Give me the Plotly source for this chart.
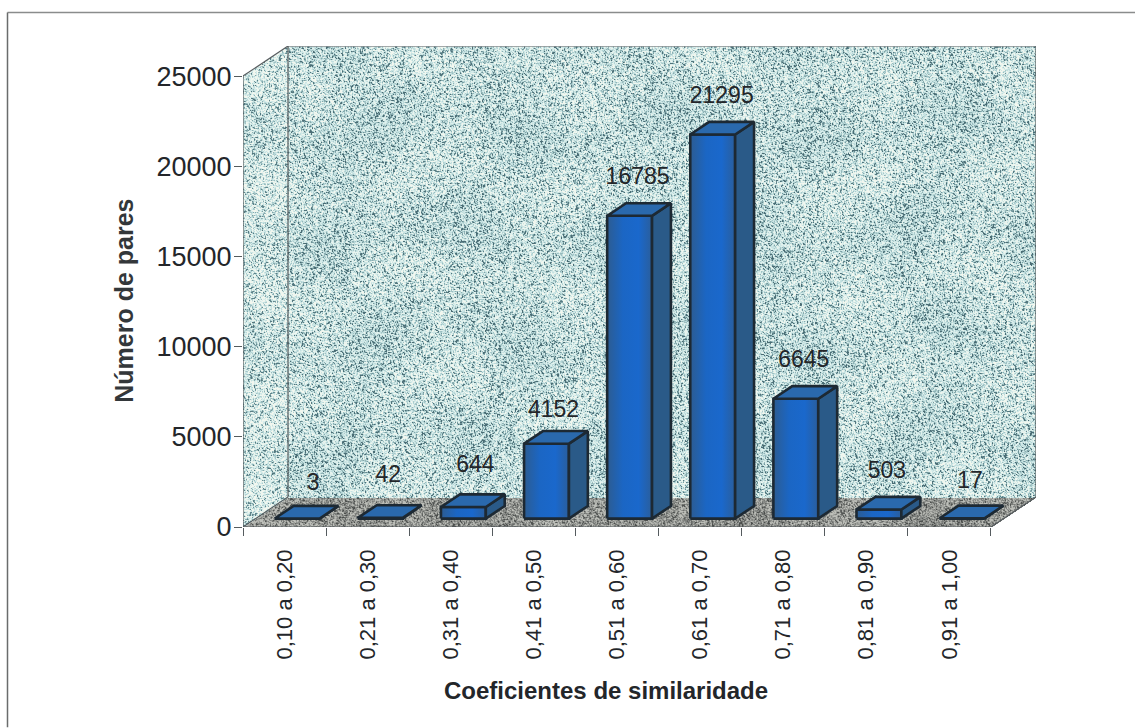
import numpy as np
import plotly.graph_objects as go

# Pair counts per similarity-coefficient class
categories = ["0,10 a 0,20", "0,21 a 0,30", "0,31 a 0,40", "0,41 a 0,50", "0,51 a 0,60",
              "0,61 a 0,70", "0,71 a 0,80", "0,81 a 0,90", "0,91 a 1,00"]
pair_counts = [3, 42, 644, 4152, 16785, 21295, 6645, 503, 17]
y_ticks = [0, 5000, 10000, 15000, 20000, 25000]

# Page geometry in pixels
WIDTH, HEIGHT = 1135, 728
LEFT, RIGHT_X, TOP, BOTTOM_Y = 243, 1036, 46, 527.5

# Oblique depth of the box, expressed in axis units
DEPTH_X = 45 / 83.1
DEPTH_Y = 30 / 450 * 25000
Y_MAX = 25000
BAR_WIDTH = 0.54
BAR_START = 0.28   # fraction of the depth where a bar's front face sits
BAR_DEPTH = 0.42   # fraction of the depth a bar occupies

n = len(categories)
X_RANGE = [0, n + DEPTH_X]
Y_RANGE = [0, Y_MAX + DEPTH_Y]
PX_X = (RIGHT_X - LEFT) / X_RANGE[1]
PX_Y = (BOTTOM_Y - TOP) / Y_RANGE[1]

INK = "#23262a"
OUTLINE = "#1d2933"
FONT = "Liberation Sans, Arial, sans-serif"
fig = go.Figure()


# Stone-like surface shared by the walls and floor of the box. The grain comes from a
# fixed hash of the cell index, so every run draws the same surface.
cols, rows = int(RIGHT_X - LEFT), int(BOTTOM_Y - TOP)
col_idx, row_idx = np.meshgrid(np.arange(cols), np.arange(rows))
grid_x = (col_idx + 0.5) / PX_X
grid_y = (row_idx + 0.5) / PX_Y


def hash_noise(a, b):
    value = np.sin(a * 12.9898 + b * 78.233) * 43758.5453
    return value - np.floor(value)


fine = hash_noise(col_idx, row_idx)
fine_right = hash_noise(col_idx + 1, row_idx)
fine_down = hash_noise(col_idx, row_idx + 1)
grain = 0.6 * fine + 0.2 * fine_right + 0.2 * fine_down
grain = np.clip((grain - 0.2) / 0.6, 0, 1) ** 0.55
mottle = (np.sin(col_idx / 23 + 1.3 * np.sin(row_idx / 37)) +
          np.sin(row_idx / 17 + 1.1 * np.sin(col_idx / 41))) * 0.04
surface = np.clip(grain + mottle, 0, 1)

on_back = (grid_x >= DEPTH_X) & (grid_y >= DEPTH_Y)
slope = DEPTH_Y / DEPTH_X
on_left = (grid_x < DEPTH_X) & (grid_y >= grid_x * slope) & (grid_y <= Y_MAX + grid_x * slope)
on_floor = (grid_y < DEPTH_Y) & (grid_x >= grid_y / slope) & (grid_x <= n + grid_y / slope)

wall_scale = [[0, "#4a6c74"], [0.3, "#7fa4a8"], [0.6, "#bcdbdb"], [0.85, "#d9eeec"],
              [1, "#f2f7ef"]]
floor_scale = [[0, "#4c4f4d"], [0.4, "#757875"], [0.75, "#959793"], [1, "#bcbeb8"]]


def surface_layer(mask, values, scale):
    z = np.where(mask, values, np.nan).astype("float32")
    fig.add_trace(go.Heatmap(z=z, x0=0.5 / PX_X, dx=1 / PX_X, y0=0.5 / PX_Y, dy=1 / PX_Y,
                             colorscale=scale, zmin=0, zmax=1, zsmooth=False,
                             showscale=False, hoverinfo="skip"))


surface_layer(on_back, surface, wall_scale)
surface_layer(on_left, np.clip(surface + 0.06, 0, 1), wall_scale)
surface_layer(on_floor, surface, floor_scale)

# Box edges
edges_x = [0, 0, None, DEPTH_X, DEPTH_X, None, 0, DEPTH_X, None, 0, DEPTH_X, None,
           DEPTH_X, n + DEPTH_X, n + DEPTH_X, n, 0]
edges_y = [0, Y_MAX, None, DEPTH_Y, Y_MAX + DEPTH_Y, None, 0, DEPTH_Y, None, Y_MAX,
           Y_MAX + DEPTH_Y, None, Y_MAX + DEPTH_Y, Y_MAX + DEPTH_Y, DEPTH_Y, 0, 0]
fig.add_trace(go.Scatter(x=edges_x, y=edges_y, mode="lines", hoverinfo="skip",
                         line=dict(color="#555b5e", width=1.2)))

# Bars: a gradient front face plus top and side faces offset along the depth
top_x, top_y, side_x, side_y = [], [], [], []
for i, value in enumerate(pair_counts):
    x0 = i + 0.5 - BAR_WIDTH / 2 + DEPTH_X * BAR_START
    x1 = x0 + BAR_WIDTH
    y0 = DEPTH_Y * BAR_START
    y1 = y0 + value
    dx, dy = DEPTH_X * BAR_DEPTH, DEPTH_Y * BAR_DEPTH
    top_x += [x0, x1, x1 + dx, x0 + dx, x0, None]
    top_y += [y1, y1, y1 + dy, y1 + dy, y1, None]
    side_x += [x1, x1 + dx, x1 + dx, x1, x1, None]
    side_y += [y0, y0 + dy, y1 + dy, y1, y0, None]
    fig.add_trace(go.Scatter(
        x=[x0, x1, x1, x0, x0], y=[y0, y0, y1, y1, y0], mode="lines", fill="toself",
        hoverinfo="skip", line=dict(color=OUTLINE, width=2.6),
        fillgradient=dict(type="horizontal",
                          colorscale=[[0, "#2c5c92"], [0.35, "#1b66c4"],
                                      [0.7, "#1a68cc"], [1, "#2a5e9c"]])))
fig.add_trace(go.Scatter(x=side_x, y=side_y, mode="lines", fill="toself", fillcolor="#2a5a88",
                         line=dict(color=OUTLINE, width=2.6), hoverinfo="skip"))
fig.add_trace(go.Scatter(x=top_x, y=top_y, mode="lines", fill="toself", fillcolor="#2a69ad",
                         line=dict(color=OUTLINE, width=2.6), hoverinfo="skip"))

# Value labels sit above each bar's front face
label_dx_px = [16, 8, 12, 7, 8, 9, 8, 8, 8]
label_dy_px = [34, 42, 41, 32, 38, 37, 38, 37, 36]
fig.add_trace(go.Scatter(
    x=[i + 0.5 + DEPTH_X * BAR_START + label_dx_px[i] / PX_X for i in range(n)],
    y=[DEPTH_Y * BAR_START + v + label_dy_px[i] / PX_Y for i, v in enumerate(pair_counts)],
    mode="text", text=[str(v) for v in pair_counts], textposition="middle center",
    textfont=dict(family=FONT, size=23, color=INK), hoverinfo="skip"))


def paper_x(px):
    return (px - LEFT) / (RIGHT_X - LEFT)


def paper_y(px):
    return (BOTTOM_Y - px) / (BOTTOM_Y - TOP)


fig.add_annotation(x=paper_x(606), y=paper_y(691), xref="paper", yref="paper", showarrow=False,
                   xanchor="center", yanchor="middle",
                   text="<b>Coeficientes de similaridade</b>",
                   font=dict(family=FONT, size=24, color=INK))
fig.add_annotation(x=paper_x(124), y=paper_y(301), xref="paper", yref="paper", showarrow=False,
                   xanchor="center", yanchor="middle", textangle=-90,
                   text="<b>Número de pares</b>",
                   font=dict(family=FONT, size=25, color="#33373a"))

# Chart frame: only the top and left edges fall on the page
fig.add_shape(type="line", xref="paper", yref="paper", x0=paper_x(7.5), x1=paper_x(1135),
              y0=paper_y(12.5), y1=paper_y(12.5), line=dict(color="#8a8c8c", width=1.5))
fig.add_shape(type="line", xref="paper", yref="paper", x0=paper_x(7.5), x1=paper_x(7.5),
              y0=paper_y(12.5), y1=paper_y(728), line=dict(color="#6a6c6c", width=1.5))

fig.update_layout(
    width=WIDTH, height=HEIGHT, autosize=False, showlegend=False,
    paper_bgcolor="white", plot_bgcolor="rgba(0,0,0,0)",
    margin=dict(l=LEFT, r=WIDTH - RIGHT_X, t=TOP, b=HEIGHT - BOTTOM_Y, pad=0),
    font=dict(family=FONT, color=INK),
    xaxis=dict(range=X_RANGE, showgrid=False, zeroline=False, showline=False,
               tickmode="array", tickvals=[i + 0.5 for i in range(n)], ticktext=categories,
               ticks="", ticklen=0, tickangle=-90, tickfont=dict(size=22, color=INK),
               ticklabelstandoff=17,
               minor=dict(tickmode="array", tickvals=list(range(n + 1)), ticks="outside",
                          ticklen=8, tickcolor="#555b5e", tickwidth=1, showgrid=False)),
    yaxis=dict(range=Y_RANGE, showgrid=False, zeroline=False, showline=False,
               tickmode="array", tickvals=y_ticks, ticktext=[str(t) for t in y_ticks],
               ticks="outside", ticklen=8, tickcolor="#555b5e", tickwidth=1,
               ticklabelstandoff=-3, tickfont=dict(size=27, color=INK)),
)

fig.write_html("out.html")
